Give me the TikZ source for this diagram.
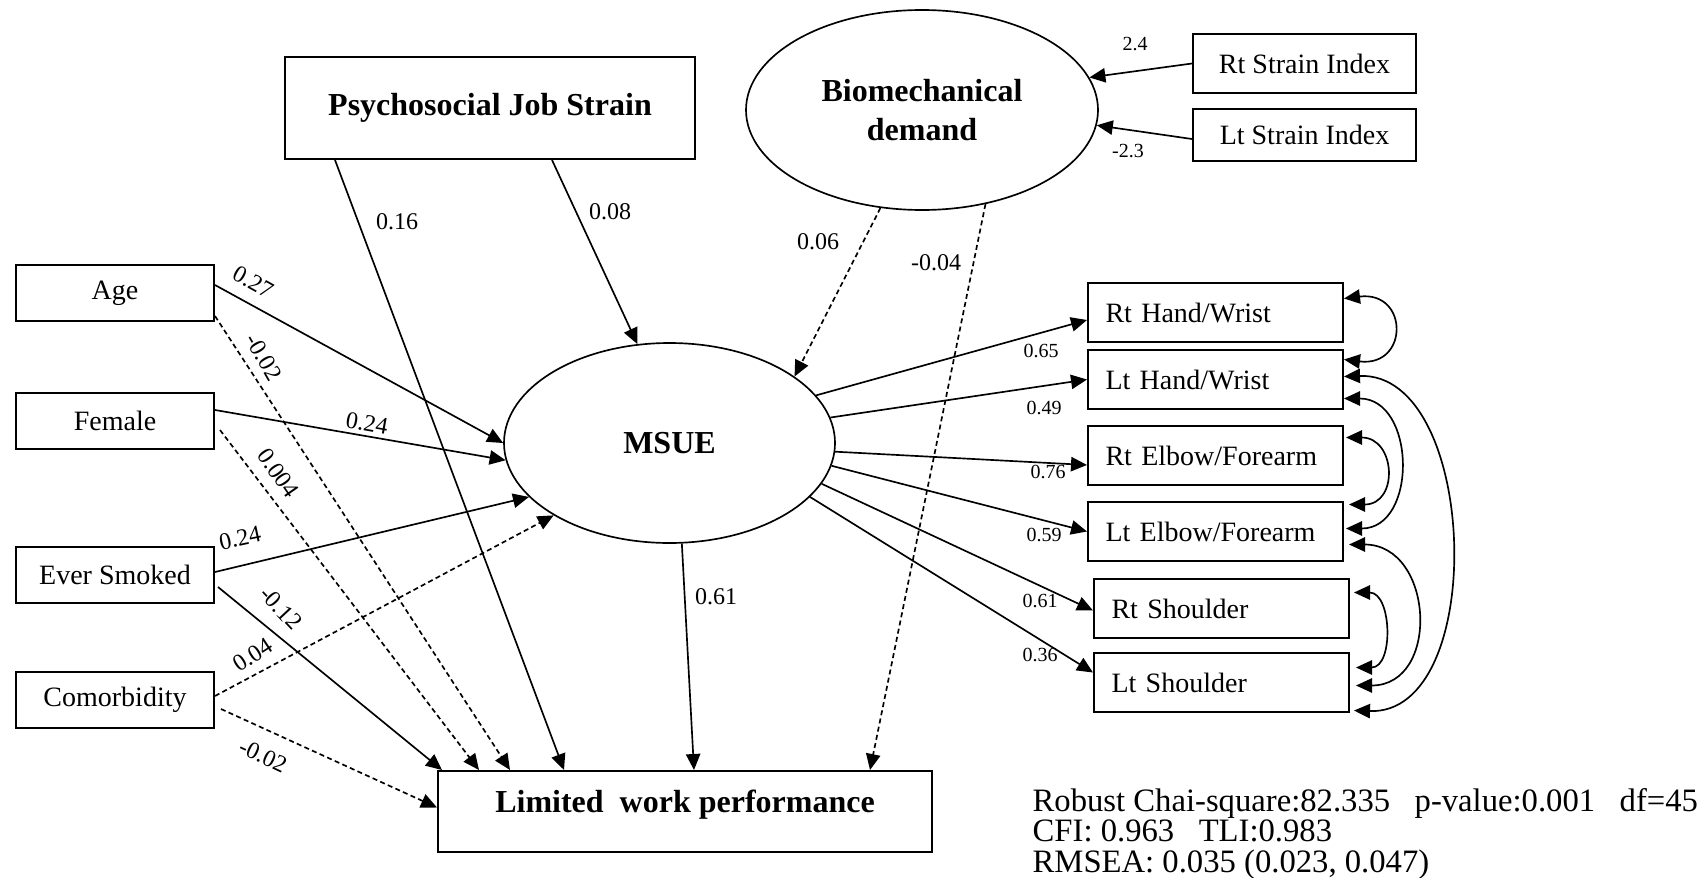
\documentclass[tikz,border=0pt]{standalone}
\usepackage{fontspec}
\setmainfont{Liberation Serif}
\usetikzlibrary{arrows.meta,positioning,shapes.geometric,calc}

\begin{document}
\begin{tikzpicture}[x=0.3pt, y=-0.3pt,
    every node/.style={font=\fontsize{8.4}{10}\selectfont},
    obs/.style={draw, line width=0.6pt, minimum width=59.4pt, minimum height=16.8pt, inner sep=0pt},
    ind/.style={draw, line width=0.6pt, minimum height=17.7pt, text width=66pt, align=left, inner xsep=5.25pt, inner ysep=0pt},
    lat/.style={draw, ellipse, line width=0.5pt, inner sep=0pt, align=center, font=\fontsize{9.6}{11.7}\selectfont\bfseries},
    head/.style={font=\fontsize{9.6}{11}\selectfont\bfseries},
    coef/.style={inner sep=0pt, font=\fontsize{7.2}{8}\selectfont},
    scoef/.style={inner sep=0pt, font=\fontsize{6}{7}\selectfont},
    sig/.style={-{Triangle[length=4.8pt,width=4.3pt]}, line width=0.5pt},
    ns/.style={sig, dash pattern=on 1.5pt off 1pt},
    cov/.style={{Triangle[length=4.8pt,width=4.3pt]}-{Triangle[length=4.8pt,width=4.3pt]}, line width=0.5pt}]
    \useasboundingbox (0,0) rectangle (1707,877);

    \node[obs, head, minimum width=123pt, minimum height=30.6pt] (psj) at (490,108) {Psychosocial Job Strain};
    \node[lat, minimum width=105.6pt, minimum height=60pt] (bio) at (922,110) {Biomechanical\\demand};
    \node[obs, minimum width=66.9pt, minimum height=17.7pt] (rsi) at (1304.5,63.5) {Rt Strain Index};
    \node[obs, minimum width=66.9pt, minimum height=15.6pt, below=4.2pt of rsi] (lsi) {Lt Strain Index};
    \node[lat, minimum width=99.3pt, minimum height=60pt] (msue) at (669.5,443) {MSUE};
    \node[obs, head, minimum width=148.2pt, minimum height=24.3pt, text height=7pt, text depth=6.3pt] (lwp) at (685,811.5) {Limited\ \ work performance};

    \node[obs] (age) at (115,293) {Age};
    \node[obs, below=21pt of age] (fem) {Female};
    \node[obs, below=28.8pt of fem] (smk) {Ever Smoked};
    \node[obs, below=20.1pt of smk] (com) {Comorbidity};

    \node[ind] (rhw) at (1215.5,312.5) {Rt Hand/Wrist};
    \node[ind, below=1.8pt of rhw] (lhw) {Lt Hand/Wrist};
    \node[ind, below=4.5pt of lhw] (ref) {Rt Elbow/Forearm};
    \node[ind, below=4.5pt of ref] (lef) {Lt Elbow/Forearm};
    \node[ind, below=4.8pt of lef, xshift=1.8pt] (rsh) {Rt Shoulder};
    \node[ind, below=3.9pt of rsh] (lsh) {Lt Shoulder};

    \draw[sig] ($(psj.south)+(-155,0)$) -- ($(lwp.north west)+(127,0)$);
    \draw[sig] ($(psj.south)+(62,0)$) -- (msue.108);
    \draw[ns] (bio.247) -- (msue.28);
    \draw[ns] (bio.304) -- ($(lwp.north west)+(433,0)$);
    \draw[sig] (rsi.west) -- (bio.11);
    \draw[sig] ($(lsi.west)+(0,4)$) -- (bio.-5.5);

    \draw[sig] ($(age.east)+(0,-8)$) -- (msue.180);
    \draw[ns] ($(age.south east)+(0,-6)$) -- ($(lwp.north west)+(73,0)$);
    \draw[sig] ($(fem.east)+(0,-11)$) -- (msue.186);
    \draw[ns] ($(fem.east)+(5,9)$) -- ($(lwp.north west)+(42,0)$);
    \draw[sig] ($(smk.east)+(0,-3)$) -- (msue.201);
    \draw[sig] ($(smk.east)+(3,12)$) -- ($(lwp.north west)+(5,0)$);
    \draw[ns] ($(com.east)+(0,-4)$) -- (msue.212);
    \draw[ns] ($(com.east)+(6,9)$) -- ($(lwp.west)+(0,-4)$);
    \draw[sig] (msue.-83) -- ($(lwp.north west)+(257,0)$);

    \draw[sig] (msue.18) -- ($(rhw.west)+(0,7.5)$);
    \draw[sig] (msue.9) -- (lhw.west);
    \draw[sig] (msue.-3) -- ($(ref.west)+(0,9.5)$);
    \draw[sig] (msue.-8) -- (lef.west);
    \draw[sig] (msue.-15) -- ($(rsh.west)+(0,2)$);
    \draw[sig] (msue.-21) -- ($(lsh.west)+(0,-10)$);

    \draw[cov] ($(rhw.east)+(0,-14)$) .. controls +(65,-8) and +(65,8) .. ($(lhw.east)+(0,-20)$);
    \draw[cov] ($(lhw.east)+(0,-3)$) .. controls +(135,-5) and +(135,5) .. ($(lsh.east)+(4,28)$);
    \draw[cov] ($(lhw.east)+(0,19)$) .. controls +(72,0) and +(72,0) .. ($(lef.east)+(2,-3)$);
    \draw[cov] ($(ref.east)+(2,-18)$) .. controls +(50,0) and +(50,0) .. ($(lef.east)+(5,-27)$);
    \draw[cov] ($(lef.east)+(5,13)$) .. controls +(85,0) and +(85,0) .. ($(lsh.east)+(6,3)$);
    \draw[cov] ($(rsh.east)+(4,-16)$) .. controls +(38,0) and +(38,0) .. ($(lsh.east)+(6,-15)$);

    \node[coef] (c16) at (397,222) {0.16};
    \node[coef] (c08) at (610,212) {0.08};
    \node[coef] (c06) at (818,242) {0.06};
    \node[coef] (cm04) at (936,263) {-0.04};
    \node[coef] (c61m) at (716,597) {0.61};
    \node[scoef] (c24) at (1135,44) {2.4};
    \node[scoef] (cm23) at (1128,151) {-2.3};
    \node[scoef] (c65) at (1041,351) {0.65};
    \node[scoef] (c49) at (1044,408) {0.49};
    \node[scoef] (c76) at (1048,472) {0.76};
    \node[scoef] (c59) at (1044,535) {0.59};
    \node[scoef] (c61) at (1040,601) {0.61};
    \node[scoef] (c36) at (1040,655) {0.36};
    \node[coef, rotate=-29] (c27) at (253,282) {0.27};
    \node[coef, rotate=-60] (cm02a) at (264,357) {-0.02};
    \node[coef, rotate=-10] (c24f) at (367,423) {0.24};
    \node[coef, rotate=-55] (c004) at (278,473) {0.004};
    \node[coef, rotate=12] (c24s) at (240,538) {0.24};
    \node[coef, rotate=-47] (cm12) at (281,608) {-0.12};
    \node[coef, rotate=33] (c04) at (253,655) {0.04};
    \node[coef, rotate=-25] (cm02c) at (263,756) {-0.02};

    \node[anchor=south west, align=left, inner sep=0pt, font=\fontsize{9.8}{9.2}\selectfont] (fit) at (1032,880) {Robust Chai-square:82.335\ \ \ p-value:0.001\ \ \ df=45\\CFI: 0.963\ \ \ TLI:0.983\\RMSEA: 0.035 (0.023, 0.047)};
\end{tikzpicture}
\end{document}
